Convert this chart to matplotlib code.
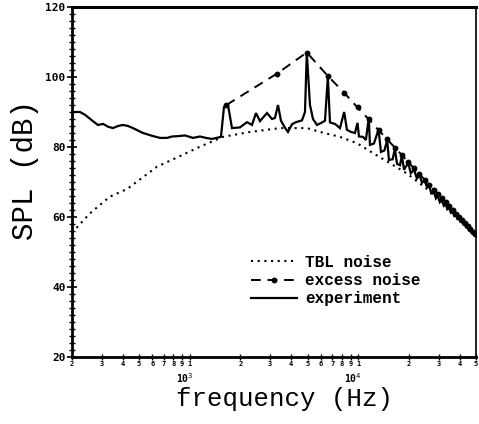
import matplotlib
matplotlib.use("Agg")
import matplotlib.pyplot as plt
from matplotlib import font_manager
from matplotlib.ticker import FixedLocator
from matplotlib.transforms import blended_transform_factory

# ---------------- data ----------------
tbl_freq = [200, 255, 335, 425, 640, 840, 1150, 1575, 2280, 3430, 4960, 5930,
            7790, 9820, 12200, 15400, 19500, 25600, 33600, 40200, 50000]
tbl_db = [55.5, 61.0, 65.8, 68.0, 74.4, 77.0, 80.1, 82.9, 84.3, 85.4, 85.4, 84.3,
          82.9, 81.1, 78.3, 75.4, 72.4, 68.0, 63.4, 59.3, 55.0]

excess_freq = [1650, 3300, 4950, 6600, 8250, 9900, 11550, 13200, 14850, 16500,
               18150, 19800, 21450, 23100, 24750, 26400, 28050, 29700, 31350,
               33000, 34650, 36300, 37950, 39600, 41250, 42900, 44550, 46200,
               47850, 49500]
excess_db = [92.0, 101.0, 107.0, 100.3, 95.5, 91.3, 87.9, 84.8, 82.2, 79.8,
             77.7, 75.7, 73.9, 72.2, 70.7, 69.2, 67.8, 66.5, 65.3, 64.2,
             63.1, 62.0, 61.0, 60.0, 59.1, 58.2, 57.4, 56.6, 55.8, 55.2]

exp_freq = [200, 223, 239, 266, 285, 306, 327, 350, 375, 402, 430, 460, 528, 597,
            666, 733, 785, 851, 937, 1045, 1150, 1248, 1355, 1532, 1596, 1686,
            1781, 1986, 2186, 2341, 2472, 2611, 2874, 3077, 3205, 3340, 3479,
            3675, 3828, 4043, 4270, 4634, 4830, 4950, 5171, 5388, 5690, 6093,
            6348, 6600, 6796, 7275, 7791, 8250, 8570, 9055, 9563, 9900, 10100,
            10667, 11100, 11550, 11736, 12394, 13200, 13640, 14300, 14850,
            15212, 16000, 16500, 16980, 17700, 18150, 18700, 19800, 20500,
            21450, 22300, 23100, 23900, 24750, 25600, 26400, 27200, 28050,
            28900, 29700, 30500, 31350, 32200, 33000, 33800, 34650, 35500,
            36300, 37100, 37950, 38800, 39600, 40400, 41250, 42100, 42900,
            43700, 44550, 45400, 46200, 47000, 47850, 48700, 50000]
exp_db = [90.0, 90.0, 89.2, 87.4, 86.3, 86.6, 85.8, 85.4, 86.0, 86.3, 86.0, 85.4,
          84.0, 83.2, 82.6, 82.6, 83.0, 83.1, 83.3, 82.6, 83.0, 82.6, 82.3, 82.9,
          91.4, 92.0, 85.4, 85.6, 87.1, 86.3, 89.7, 87.4, 89.7, 88.0, 88.3, 92.0,
          87.5, 85.5, 84.3, 86.5, 87.1, 87.6, 90.0, 107.0, 92.0, 88.0, 86.3,
          87.0, 87.5, 100.0, 87.0, 86.6, 85.4, 90.0, 84.9, 84.3, 84.0, 86.9,
          83.0, 82.9, 82.0, 88.3, 80.6, 81.0, 85.0, 78.6, 79.0, 82.0, 76.3,
          76.5, 79.5, 75.2, 74.8, 77.5, 73.5, 75.5, 72.5, 73.5, 71.0, 72.0,
          69.8, 70.5, 68.5, 69.0, 66.5, 67.3, 65.3, 66.0, 64.2, 64.8, 63.2,
          63.7, 62.2, 62.6, 61.2, 61.5, 60.3, 60.6, 59.4, 59.6, 58.6, 58.7,
          57.8, 57.8, 57.0, 57.0, 56.2, 56.2, 55.5, 55.5, 55.1, 55.0]

x_tick_vals = [200, 300, 400, 500, 600, 700, 800, 900, 1000, 2000, 3000, 4000,
               5000, 6000, 7000, 8000, 9000, 10000, 20000, 30000, 40000, 50000]
x_tick_labels = ["2", "3", "4", "5", "6", "7", "8", "9", "1", "2", "3", "4",
                 "5", "6", "7", "8", "9", "1", "2", "3", "4", "5"]
decade_vals = [1000, 10000]
decade_labels = ["10$^{3}$", "10$^{4}$"]
y_ticks = [20, 40, 60, 80, 100, 120]
legend_labels = ["TBL noise", "excess noise", "experiment"]

# ---------------- fonts ----------------
available = {f.name for f in font_manager.fontManager.ttflist}


def pick(cands):
    for c in cands:
        if c in available:
            return c
    return "DejaVu Sans Mono"


mono_serif = pick(["Liberation Mono", "Courier New", "Nimbus Mono PS",
                   "FreeMono", "Courier", "DejaVu Sans Mono"])

# ---------------- figure ----------------
fig = plt.figure(figsize=(4.79, 4.24), dpi=100)
ax = fig.add_axes([72 / 479, 67 / 424, 404 / 479, 350 / 424])

l1, = ax.plot(tbl_freq, tbl_db, color="black", lw=1.5, ls=(0, (1.0, 2.2)))
l2, = ax.plot(excess_freq, excess_db, color="black", lw=1.4, ls=(0, (5, 3.5)),
              marker="o", ms=3.2, mfc="black", mec="black")
l3, = ax.plot(exp_freq, exp_db, color="black", lw=1.6, solid_joinstyle="miter")

ax.set_xscale("log")
ax.set_xlim(200, 50000)
ax.set_ylim(20, 120)

tick_font = dict(family="DejaVu Sans Mono", weight="bold")
ax.set_xticks(x_tick_vals)
ax.xaxis.set_minor_locator(FixedLocator([]))
ax.set_xticklabels(x_tick_labels, fontsize=5, **tick_font)
ax.tick_params(axis="x", which="major", direction="inout", length=4, width=1.0,
               pad=1, top=False)
trans = blended_transform_factory(ax.transData, ax.transAxes)
for v, lab in zip(decade_vals, decade_labels):
    ax.text(v * 0.93, -0.04, lab, transform=trans, ha="center", va="top",
            fontsize=7, **tick_font)

ax.set_yticks(y_ticks)
ax.set_yticklabels([str(v) for v in y_ticks], fontsize=8, **tick_font)
ax.yaxis.set_minor_locator(FixedLocator(list(range(20, 121, 2))))
ax.tick_params(axis="y", which="major", direction="inout", length=7, width=1.2, pad=1)
ax.tick_params(axis="y", which="minor", direction="inout", length=4, width=1.0)

for s in ["left", "bottom"]:
    ax.spines[s].set_linewidth(2.0)
ax.spines["top"].set_linewidth(2.2)
ax.spines["right"].set_linewidth(1.2)

fig.text(285 / 479, 1 - 399 / 424, "frequency (Hz)", ha="center", va="center",
         fontsize=18.5, family=mono_serif)
fig.text(25 / 479, 1 - 170 / 424, "SPL (dB)", ha="center", va="center",
         rotation=90, fontsize=21, family=mono_serif)

leg = ax.legend([l1, l2, l3], legend_labels, loc="upper left",
                bbox_to_anchor=(179 / 404, 1 - (255 - 7) / 350),
                frameon=False, handlelength=2.9, handletextpad=0.5,
                labelspacing=0.2, borderpad=0, borderaxespad=0,
                prop=dict(family=mono_serif, weight="bold", size=11.5))

fig.savefig("out.png", dpi=100)
